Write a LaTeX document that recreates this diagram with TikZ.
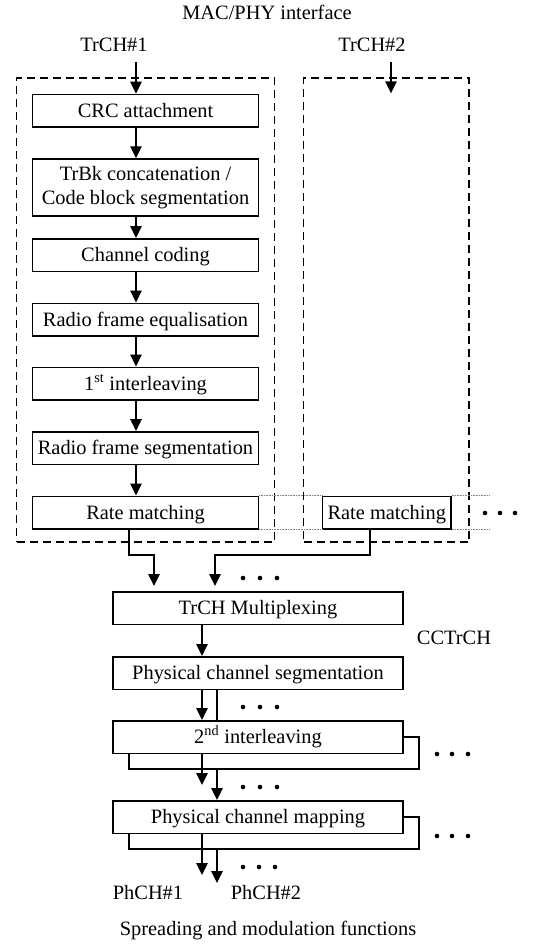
\documentclass[tikz,border=0pt]{standalone}
\usepackage{fontspec}
\setmainfont{Liberation Serif}
\usetikzlibrary{arrows.meta}
\begin{document}
\begin{tikzpicture}[x=1pt,y=-1pt,
  every node/.style={font=\fontsize{20.4}{23.3}\selectfont, inner sep=0pt},
  plainbox/.style={draw, line width=1.5pt, fill=white, minimum height=32.5pt},
  stage/.style={plainbox, text height=14pt, text depth=1pt},
  colbox/.style={stage, minimum width=225.8pt},
  widebox/.style={stage, minimum width=290pt},
  backbox/.style={draw, line width=1.5pt, fill=white, minimum width=290pt, minimum height=32pt},
  grp/.style={draw, line width=1.5pt, dash pattern=on 8pt off 5pt, minimum height=464pt},
  arr/.style={line width=1.4pt, -{Triangle[length=12pt,width=11.5pt]}},
  guide/.style={draw=gray, line width=0.6pt, dash pattern=on 0.8pt off 0.8pt},
  caption/.style={anchor=base}
]
\useasboundingbox (0,0) rectangle (533,945);

% reference x positions of the signal lines
\coordinate (xa) at (136,0);
\coordinate (xb) at (129,0);
\coordinate (xc) at (370,0);
\coordinate (xl) at (202,0);
\coordinate (xr) at (217,0);
\coordinate (bus) at (0,555);

% transport channel groups
\node[grp, minimum width=258pt] (g1) at (145.5,310) {};
\node[grp, minimum width=165.5pt] (g2) at (386.25,310) {};

% headings
\node[caption] (mac) at (267,19.3) {MAC/PHY interface};
\node[caption] (tr1) at (114,51.7) {TrCH\#1};
\node[caption] (tr2) at (372,51.7) {TrCH\#2};

% per-TrCH processing chain
\node[colbox] (crc) at (145.5,110.6) {CRC attachment};
\node[plainbox, minimum width=225.8pt, minimum height=57pt, align=center] (trbk) at (145.5,187.5) {TrBk concatenation /\\Code block segmentation};
\node[colbox] (cc) at (145.5,255) {Channel coding};
\node[colbox] (rfe) at (145.5,319.5) {Radio frame equalisation};
\node[colbox] (il1) at (145.5,383.5) {1\textsuperscript{st} interleaving};
\node[colbox] (rfs) at (145.5,448) {Radio frame segmentation};
\node[colbox] (rm1) at (145.5,512.5) {Rate matching};
\node[stage, minimum width=128.5pt] (rm2) at (386.75,512.5) {Rate matching};

% inputs
\coordinate (in1) at (136,62);
\coordinate (in2) at (391,62);
\coordinate (in2end) at (391,93.3);
\draw[arr] (in1) -- (in1 |- crc.north);
\draw[arr] (in2) -- (in2end);

\foreach \a/\b in {crc/trbk, trbk/cc, cc/rfe, rfe/il1, il1/rfs, rfs/rm1}
  \draw[arr] (\a.south -| xa) -- (\b.north -| xa);

% rate matching alignment guides
\draw[guide] (rm1.north east) -- (rm2.north west);
\draw[guide] (rm1.south east) -- (rm2.south west);
\draw[guide] (rm2.north east) -- ++(37,0);
\draw[guide] (rm2.south east) -- ++(37,0);
\foreach \x in {485,500,515} \fill (\x,513) circle (2.3pt);

% multiplexing
\node[widebox] (mux) at (258,608) {TrCH Multiplexing};
\coordinate (m1) at (154,586);
\coordinate (m2) at (215,586);
\draw[arr] (rm1.south -| xb) -- (xb |- bus) -| (m1);
\draw[arr] (rm2.south -| xc) -- (xc |- bus) -| (m2);
\foreach \x in {243,260,277} \fill (\x,578) circle (2.3pt);

\node[widebox] (pcs) at (258,673) {Physical channel segmentation};
\draw[arr] (mux.south -| xl) -- (pcs.north -| xl);
\node[caption] (cct) at (454,644.5) {CCTrCH};

% second interleaving
\node[backbox] (il2b) at (274,753) {};
\draw[arr] (pcs.south -| xr) -- (il2b.north -| xr);
\node[widebox] (il2) at (258,737) {2\textsuperscript{nd} interleaving};
\draw[arr] (pcs.south -| xl) -- (il2.north -| xl);
\foreach \x in {243,260,277} \fill (\x,707) circle (2.3pt);
\foreach \x in {437,452,468} \fill (\x,754) circle (2.3pt);

% physical channel mapping
\node[backbox] (pcmb) at (274,833) {};
\node[widebox] (pcm) at (258,817) {Physical channel mapping};
\coordinate (d1) at (202,785);
\draw[arr] (il2.south -| xl) -- (d1);
\draw[arr] (il2b.south -| xr) -- (pcm.north -| xr);
\foreach \x in {243,260,277} \fill (\x,787) circle (2.3pt);
\foreach \x in {437,452,468} \fill (\x,836) circle (2.3pt);

% outputs
\coordinate (o1) at (202,875);
\coordinate (o2) at (217,883);
\draw[arr] (pcm.south -| xl) -- (o1);
\draw[arr] (pcmb.south -| xr) -- (o2);
\foreach \x in {243,259,275} \fill (\x,867) circle (2.3pt);

\node[caption] (ph1) at (148,899) {PhCH\#1};
\node[caption] (ph2) at (266,899) {PhCH\#2};
\node[caption] (spread) at (268,935) {Spreading and modulation functions};
\end{tikzpicture}
\end{document}
